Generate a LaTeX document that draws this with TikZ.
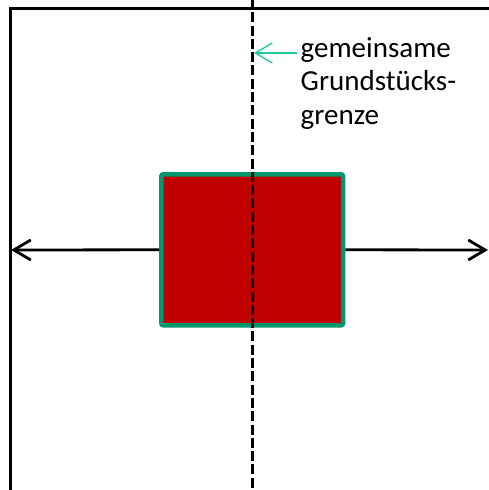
\documentclass[tikz,border=0pt]{standalone}
\usepackage{fontspec}
\setmainfont{Carlito}
\usetikzlibrary{arrows.meta}
\definecolor{housered}{RGB}{192,0,0}
\definecolor{housegreen}{RGB}{0,150,110}
\definecolor{mint}{RGB}{30,200,150}
\tikzset{
  x=1pt, y=1pt,
  frameline/.style={line width=3.2pt, line cap=rect},
  boundary/.style={line width=3pt, dash pattern=on 10pt off 3.3pt},
  house/.style={draw=housegreen, line width=4.5pt, fill=housered, rounded corners=2pt,
    minimum width=181.7pt, minimum height=151pt, inner sep=0pt},
  reach/.style={line width=2.8pt, -{Straight Barb[length=17pt,width=20pt,line width=2.8pt]}},
  pointer/.style={draw=mint, line width=1.3pt, -{Straight Barb[length=17pt,width=20pt,line width=1.3pt]}},
  label/.style={font=\fontsize{29}{33.5}\selectfont, align=left, inner sep=0pt, anchor=north west}
}
\begin{document}
\begin{tikzpicture}
\useasboundingbox (0,0) rectangle (489,490);
% frame
\coordinate (fb) at (10.5,-2);
\coordinate (fc) at (10.5,481.5);
\coordinate (fr) at (491,481.5);
\draw[frameline] (fb) -- (fc) -- (fr);
% building
\node[house] (bldg) at (252.2,240.2) {};
% arrows
\coordinate (ltip) at (11,240);
\coordinate (rtip) at (488,240);
\draw[reach] (bldg.west) -- (ltip);
\draw[reach] (bldg.east) -- (rtip);
% shared boundary
\coordinate (btop) at (252,491);
\coordinate (bbot) at (252,-1);
\draw[boundary] (btop) -- (bbot);
% label
\node[label] (lbl) at (300.5,453) {gemeinsame\\Grundstücks-\\grenze};
\coordinate (gstart) at (297,437);
\coordinate (gtip) at (254,437);
\draw[pointer] (gstart) -- (gtip);
\end{tikzpicture}
\end{document}
